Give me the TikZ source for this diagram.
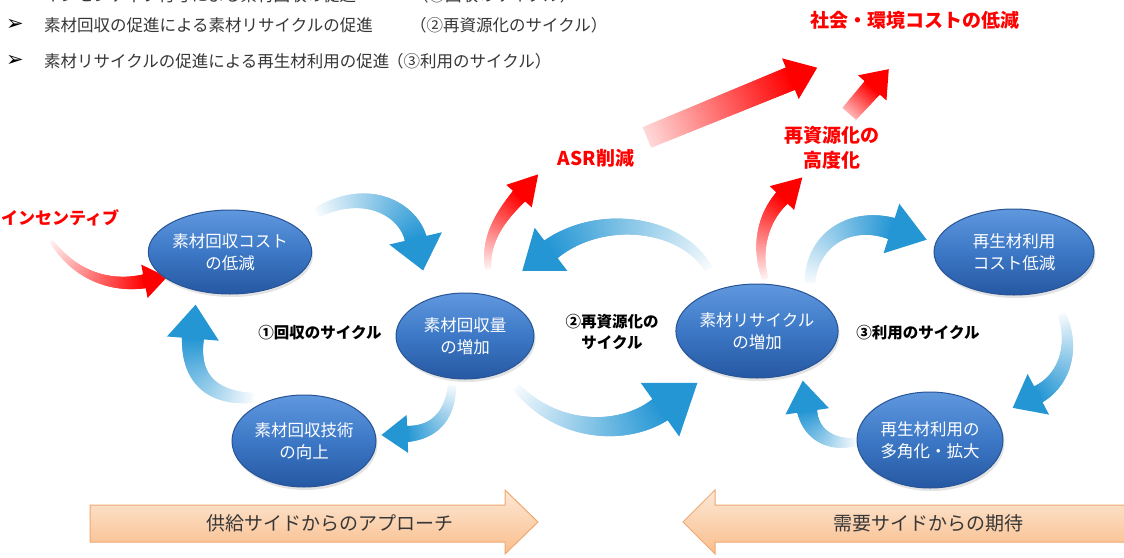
\documentclass[tikz,border=0pt]{standalone}
\usepackage{fontspec}
\setmainfont{Noto Sans CJK JP}
\newfontfamily\dv{DejaVu Sans}
\usetikzlibrary{decorations.markings,shapes.geometric,shadows}
\definecolor{ablue}{RGB}{36,150,212}
\definecolor{ared}{RGB}{255,0,0}
\definecolor{etop}{RGB}{96,152,222}
\definecolor{emid}{RGB}{60,120,198}
\definecolor{ebot}{RGB}{38,88,162}
\definecolor{eedge}{RGB}{40,84,150}
\definecolor{otop}{RGB}{253,232,214}
\definecolor{obot}{RGB}{249,190,140}
\definecolor{oedge}{RGB}{240,168,112}
\definecolor{txtgray}{RGB}{55,55,55}
\tikzset{
  gradarrow/.style n args={7}{decoration={markings,
     mark=between positions 0 and 0.99 step #7 with {%
       \pgfmathsetmacro\gtf{\pgfkeysvalueof{/pgf/decoration/mark info/distance from start}/\pgfdecoratedpathlength}%
       \pgfmathsetmacro\gpc{#2+(100-#2)*\gtf}%
       \pgfmathsetmacro\grr{#3+(#4-#3)*\gtf}%
       \fill[#1!\gpc!white] (-1.2pt,-\grr pt) rectangle (1.2pt,\grr pt);},
     mark=at position 0.995 with {\fill[#1] (-2pt,-#4pt) rectangle (0pt,#4pt); \fill[#1] (-1pt,-#5pt) -- (#6pt,0pt) -- (-1pt,#5pt) -- cycle;}},
     decorate},
  barrow/.style n args={4}{gradarrow={ablue}{4}{#1}{#2}{#3}{#4}{1pt}},
  rarrow/.style n args={5}{gradarrow={ared}{#5}{#1}{#2}{#3}{#4}{1pt}},
  ell/.style={ellipse, draw=eedge, line width=1pt, top color=etop, bottom color=ebot, middle color=emid,
    text=white, align=center, inner sep=0pt, font=\fontsize{16.5}{22}\selectfont,
    drop shadow={opacity=0.22, shadow xshift=1.5pt, shadow yshift=-3pt}},
  redlab/.style={text=ared, align=center, font=\fontsize{19}{25}\selectfont\bfseries},
  blab/.style={text=black, align=center, font=\fontsize{15.5}{21}\selectfont\bfseries},
  bul/.style={anchor=west, text=txtgray, inner sep=0pt, font=\fontsize{16.5}{20}\selectfont},
  bulmark/.style={anchor=west, text=black, inner sep=0pt, font=\dv\fontsize{21}{22}\selectfont},
  oarrow/.style={draw=oedge, line width=1pt, top color=otop, bottom color=obot},
  olab/.style={text=txtgray, font=\fontsize{19}{22}\selectfont}
}
\begin{document}
\begin{tikzpicture}[x=1pt,y=-1pt]
\useasboundingbox (0,0) rectangle (1124,557);
\fill[white] (0,0) rectangle (1124,557);

% bullet lines
\node[bulmark] (m1) at (6,-5) {➢};
\node[bul] (t1) at (44,-5) {インセンティブ付与による素材回収の促進};
\node[bul] (p1) at (412,-5) {（①回収のサイクル）};
\node[bulmark] (m2) at (6,25) {➢};
\node[bul] (t2) at (44,25) {素材回収の促進による素材リサイクルの促進};
\node[bul] (p2) at (410,25) {（②再資源化のサイクル）};
\node[bulmark] (m3) at (6,61) {➢};
\node[bul] (t3) at (44,61) {素材リサイクルの促進による再生材利用の促進};
\node[bul] (p3) at (387,61) {（③利用のサイクル）};

% red labels
\node[redlab] (goal) at (915,20) {社会・環境コストの低減};
\node[redlab] (asr) at (596,158) {ASR削減};
\node[redlab] (kodo) at (832,148) {再資源化の\\高度化};
\node[redlab, font=\fontsize{17}{22}\selectfont\bfseries] (inc) at (60,218) {インセンティブ};

% cycle labels
\node[blab] (c1) at (320,333) {①回収のサイクル};
\node[blab] (c2) at (612,332) {②再資源化の\\サイクル};
\node[blab] (c3) at (918,333) {③利用のサイクル};

% arrow end points
\coordinate (a1t) at (318,212); \coordinate (a1h) at (416,240);
\coordinate (a2t) at (252,398); \coordinate (a2h) at (193,337);
\coordinate (a3t) at (452,386); \coordinate (a3h) at (406,434);
\coordinate (a4t) at (708,268); \coordinate (a4h) at (550,250);
\coordinate (a5t) at (517,388); \coordinate (a5h) at (661,409);
\coordinate (a6t) at (810,282); \coordinate (a6h) at (893,229);
\coordinate (a7t) at (1062,315); \coordinate (a7h) at (1037,395);
\coordinate (a8t) at (855,442); \coordinate (a8h) at (807,410);
\coordinate (r1t) at (52,242); \coordinate (r1h) at (146,281);
\coordinate (r2t) at (488,268); \coordinate (r2h) at (520,195);
\coordinate (r3t) at (765,278); \coordinate (r3h) at (783,197);
\coordinate (b1t) at (648,137); \coordinate (b1h) at (792,78);
\coordinate (b2t) at (850,113); \coordinate (b2h) at (873,87);

% blue cycle arrows
\path[barrow={5}{11}{27}{32}] (a1t) .. controls (370,185) and (410,212) .. (a1h);
\path[barrow={5}{11}{26}{33}] (a2t) .. controls (205,398) and (190,372) .. (a2h);
\path[barrow={4}{8}{19}{25}] (a3t) .. controls (450,415) and (435,433) .. (a3h);
\path[barrow={4}{11}{27}{35}] (a4t) .. controls (680,222) and (600,212) .. (a4h);
\path[barrow={4}{13}{33}{45}] (a5t) .. controls (560,435) and (625,435) .. (a5h);
\path[barrow={5}{11}{26}{36}] (a6t) .. controls (812,240) and (850,215) .. (a6h);
\path[barrow={4}{9}{23}{28}] (a7t) .. controls (1074,345) and (1066,380) .. (a7h);
\path[barrow={4}{10}{22}{30}] (a8t) .. controls (828,446) and (810,432) .. (a8h);

% red arrows
\path[rarrow={2}{7}{17}{22}{5}] (r1t) .. controls (75,275) and (110,288) .. (r1h);
\path[rarrow={3}{8}{17}{28}{5}] (r2t) .. controls (485,235) and (505,212) .. (r2h);
\path[rarrow={3}{8}{17}{28}{5}] (r3t) .. controls (755,245) and (765,215) .. (r3h);
\path[rarrow={11}{12}{22}{28}{15}] (b1t) -- (b1h);
\path[rarrow={9}{10}{19}{24}{30}] (b2t) -- (b2h);

% ellipses
\node[ell, minimum width=136, minimum height=84] (e1) at (230,252) {素材回収コスト\\の低減};
\node[ell, minimum width=138, minimum height=86] (e2) at (465,336) {素材回収量\\の増加};
\node[ell, minimum width=144, minimum height=92] (e3) at (304,441) {素材回収技術\\の向上};
\node[ell, minimum width=140, minimum height=94] (e4) at (757,331) {素材リサイクル\\の増加};
\node[ell, minimum width=160, minimum height=86] (e5) at (1014,252) {再生材利用\\コスト低減};
\node[ell, minimum width=146, minimum height=96] (e6) at (930,440) {再生材利用の\\多角化・拡大};

% orange block arrows
\path[oarrow] (90,505) -- (505,505) -- (505,490) -- (538,522) -- (505,554) -- (505,542) -- (90,542) -- cycle;
\path[oarrow] (1130,505) -- (715,505) -- (715,490) -- (683,522) -- (715,554) -- (715,542) -- (1130,542) -- cycle;
\node[olab] (o1) at (330,523) {供給サイドからのアプローチ};
\node[olab] (o2) at (928,523) {需要サイドからの期待};
\end{tikzpicture}
\end{document}
